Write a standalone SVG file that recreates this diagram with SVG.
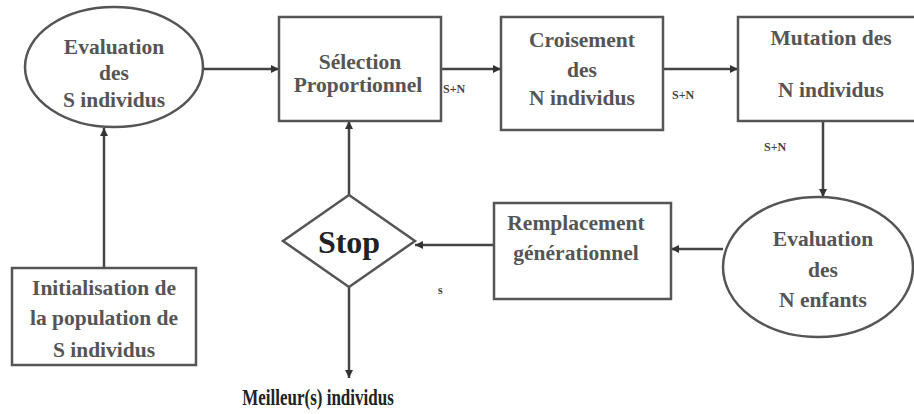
<svg xmlns="http://www.w3.org/2000/svg" width="914" height="414" viewBox="0 0 914 414">
<defs>
<marker id="ah" viewBox="0 0 10 10" refX="10" refY="5" markerWidth="8" markerHeight="8" markerUnits="userSpaceOnUse" orient="auto">
<path d="M0,0 L10,5 L0,10 z" fill="#333"/>
</marker>
</defs>
<style>
.box{fill:#fff;stroke:#555;stroke-width:2.5}
.t{font-family:'Liberation Serif',serif;font-size:21.5px;font-weight:600;fill:#555;text-anchor:middle}
.c{stroke:#444;stroke-width:2.5;fill:none;marker-end:url(#ah)}
.lab{font-family:'Liberation Serif',serif;font-size:12px;font-weight:bold;fill:#444}
</style>
<rect width="914" height="414" fill="#fff"/>
<g id="connectors">
<line class="c" x1="203" y1="69" x2="279" y2="69"/>
<line class="c" x1="441" y1="69" x2="501" y2="69"/>
<line class="c" x1="663" y1="69" x2="738" y2="69"/>
<line class="c" x1="823" y1="121" x2="823" y2="197"/>
<line class="c" x1="723" y1="249" x2="671" y2="249"/>
<line class="c" x1="494" y1="245" x2="415" y2="245"/>
<line class="c" x1="349" y1="195" x2="349" y2="121"/>
<line class="c" x1="349" y1="287" x2="349" y2="378"/>
<line class="c" x1="104" y1="268" x2="104" y2="128"/>
<text class="lab" x="443" y="93">S+N</text>
<text class="lab" x="672" y="99">S+N</text>
<text class="lab" x="764" y="151">S+N</text>
<text class="lab" x="438" y="294">s</text>
</g>
<g id="eval-s">
<ellipse class="box" cx="114" cy="67" rx="89" ry="60"/>
<text class="t" x="114" y="54">Evaluation</text>
<text class="t" x="114" y="80">des</text>
<text class="t" x="114" y="107">S individus</text>
</g>
<g id="selection">
<rect class="box" x="279" y="17" width="162" height="104"/>
<text class="t" x="360" y="69">Sélection</text>
<text class="t" x="358" y="92">Proportionnel</text>
</g>
<g id="croisement">
<rect class="box" x="501" y="17" width="162" height="113"/>
<text class="t" x="582" y="47">Croisement</text>
<text class="t" x="582" y="77">des</text>
<text class="t" x="582" y="105">N individus</text>
</g>
<g id="mutation">
<rect class="box" x="738" y="17" width="190" height="104"/>
<text class="t" x="831" y="45">Mutation des</text>
<text class="t" x="831" y="97">N individus</text>
</g>
<g id="eval-n">
<ellipse class="box" cx="818" cy="267" rx="95" ry="70"/>
<text class="t" x="823" y="246">Evaluation</text>
<text class="t" x="823" y="277">des</text>
<text class="t" x="823" y="307">N enfants</text>
</g>
<g id="remplacement">
<rect class="box" x="494" y="203" width="177" height="96"/>
<text class="t" x="576" y="230">Remplacement</text>
<text class="t" x="576" y="260">générationnel</text>
</g>
<g id="stop">
<polygon class="box" points="349,195 415,241 349,287 283,241"/>
<text class="t" x="349" y="253" style="font-size:32px;font-weight:bold;fill:#222">Stop</text>
</g>
<g id="init">
<rect class="box" x="12" y="268" width="184" height="97"/>
<text class="t" x="104" y="295">Initialisation de</text>
<text class="t" x="104" y="325">la population de</text>
<text class="t" x="104" y="357">S individus</text>
</g>
<g id="best">
<text class="t" x="0" y="0" transform="translate(318,405) scale(1,1.35)" style="font-size:17px;font-weight:bold;fill:#222">Meilleur(s) individus</text>
</g>
</svg>
